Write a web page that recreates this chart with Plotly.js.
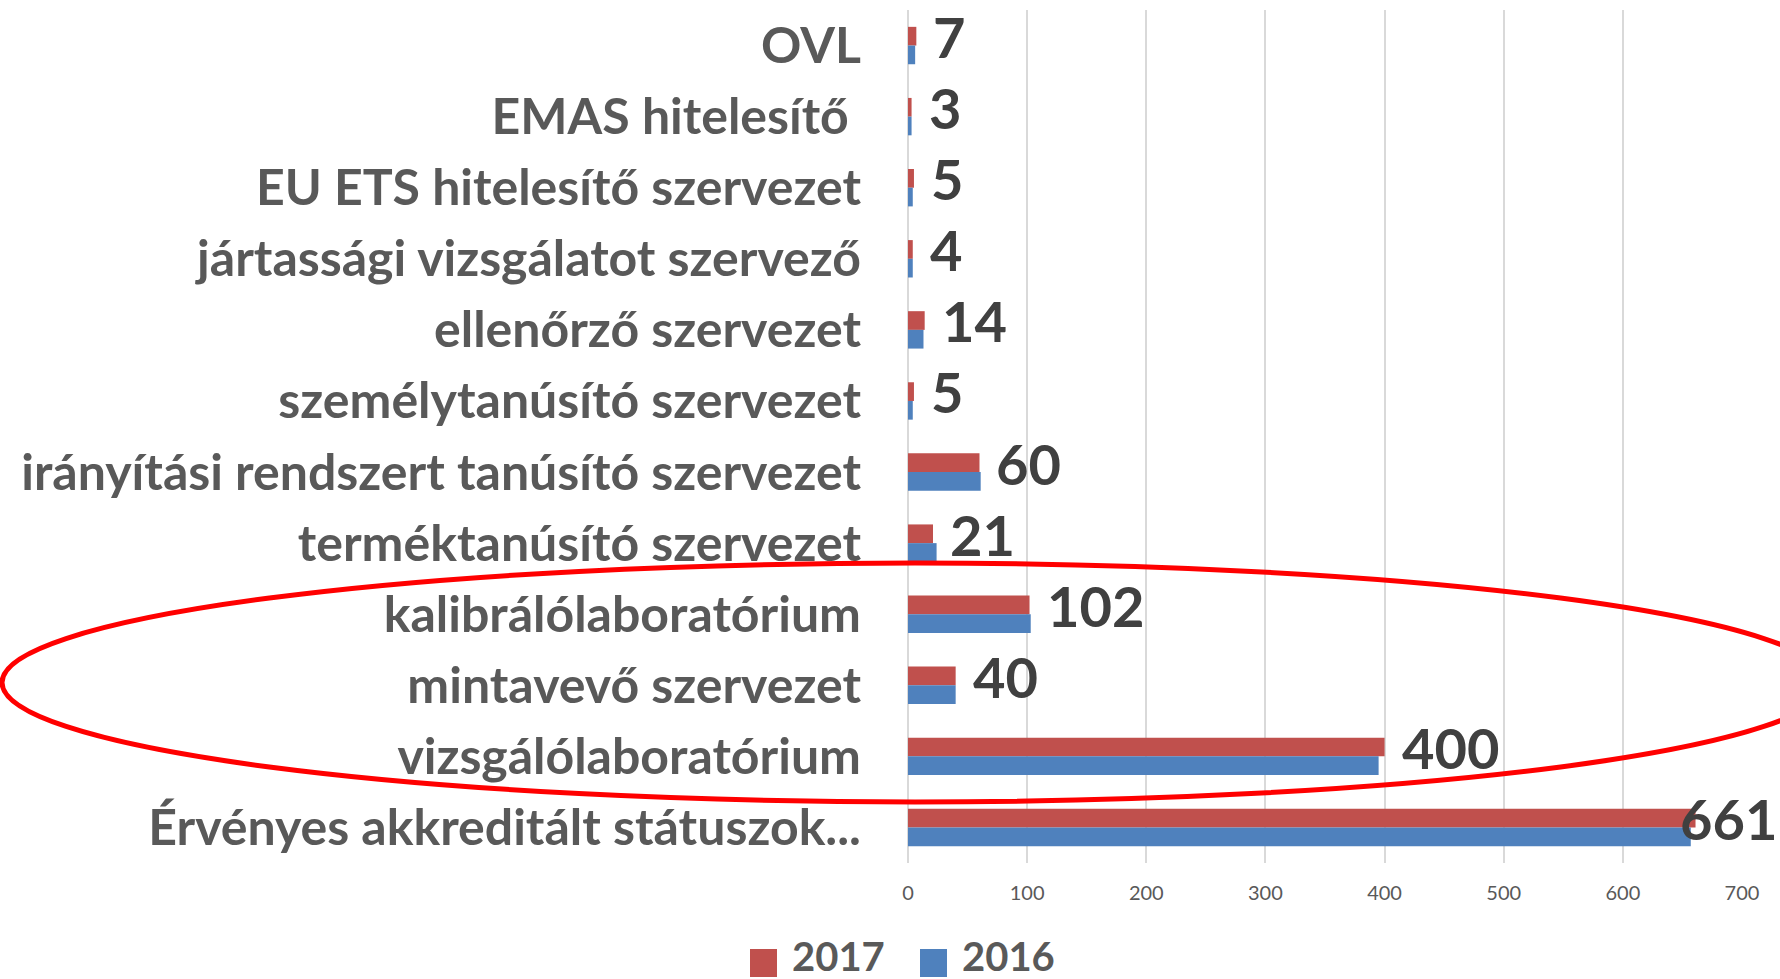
<!DOCTYPE html>
<html>
<head>
<meta charset="utf-8">
<script src="https://cdn.plot.ly/plotly-3.0.1.min.js"></script>
<style>
  html, body { margin: 0; padding: 0; background: #ffffff; }
  #chart { width: 1780px; height: 979px; }
</style>
</head>
<body>
<div id="chart"></div>
<script>
// ---- data (top to bottom as shown) ----
const categories = [
  "OVL",
  "EMAS hitelesítő ",
  "EU ETS hitelesítő szervezet",
  "jártassági vizsgálatot szervező",
  "ellenőrző szervezet",
  "személytanúsító szervezet",
  "irányítási rendszert tanúsító szervezet",
  "terméktanúsító szervezet",
  "kalibrálólaboratórium",
  "mintavevő szervezet",
  "vizsgálólaboratórium",
  "Érvényes akkreditált státuszok..."
];
const values2017 = [7, 3, 5, 4, 14, 5, 60, 21, 102, 40, 400, 661];
const values2016 = [6, 3, 4, 4, 13, 4, 61, 24, 103, 40, 395, 657];
const seriesNames = ["2017", "2016"];
const seriesColors = ["#C0504D", "#4F81BD"];
const xTicks = [0, 100, 200, 300, 400, 500, 600, 700];

// ---- layout geometry ----
const W = 1780, H = 979;
const M = { l: 908, r: 38, t: 10, b: 116 };
const plotW = W - M.l - M.r, plotH = H - M.t - M.b;
const px2x = px => (px - M.l) / plotW;
const px2y = py => (H - M.b - py) / plotH;
const xMax = xTicks[xTicks.length - 1];

const traces = [
  { type: "bar", orientation: "h", name: seriesNames[0], y: categories, x: values2017,
    marker: { color: seriesColors[0] }, hoverinfo: "x+y+name", showlegend: false },
  { type: "bar", orientation: "h", name: seriesNames[1], y: categories, x: values2016,
    marker: { color: seriesColors[1] }, hoverinfo: "x+y+name", showlegend: false }
];

// data labels for the 2017 series, at the end of its bars;
// a label that would run off the chart is pulled back inside its right edge
const labelFont = { family: "Lato, 'Open Sans', sans-serif", size: 56, weight: 700, color: "#404040" };
const labelAnnotations = values2017.map((v, i) => {
  const overflow = v / xMax > 0.9;
  return {
    x: overflow ? xMax : v, y: categories[i], xref: "x", yref: "y",
    text: String(v), showarrow: false,
    xanchor: overflow ? "right" : "left", yanchor: "middle",
    xshift: overflow ? (M.r - 1) : 15,
    yshift: 9,
    font: labelFont
  };
});

// custom legend (large squares like the original)
const legendItems = [
  { sq0: 750, text0: 790 },
  { sq0: 920, text0: 960 }
];
const legendShapes = legendItems.map((it, k) => ({
  type: "rect", xref: "paper", yref: "paper",
  x0: px2x(it.sq0), x1: px2x(it.sq0 + 27), y0: px2y(977), y1: px2y(949),
  fillcolor: seriesColors[k], line: { width: 0 }
}));
const legendTexts = legendItems.map((it, k) => ({
  xref: "paper", yref: "paper", x: px2x(it.text0), y: px2y(956),
  xanchor: "left", yanchor: "middle", showarrow: false, text: seriesNames[k],
  font: { family: "Lato, 'Open Sans', sans-serif", size: 40, weight: 700, color: "#595959" }
}));

// red highlight ellipse
const ellipse = {
  type: "circle", xref: "paper", yref: "paper", layer: "above",
  x0: px2x(2), x1: px2x(1828), y0: px2y(802), y1: px2y(563),
  line: { color: "#FF0000", width: 5 }, fillcolor: "rgba(0,0,0,0)"
};

const layout = {
  width: W, height: H,
  margin: M,
  paper_bgcolor: "#ffffff", plot_bgcolor: "#ffffff",
  barmode: "group", bargap: 0.474, bargroupgap: 0,
  showlegend: false,
  xaxis: {
    range: [0, xMax], tickvals: xTicks, ticktext: xTicks.map(String),
    showgrid: true, gridcolor: "#d9d9d9", gridwidth: 2,
    zeroline: true, zerolinecolor: "#d9d9d9", zerolinewidth: 2.5,
    showline: false, ticks: "", ticklabelstandoff: 16,
    tickfont: { family: "Lato, 'Open Sans', sans-serif", size: 20, color: "#595959" },
    fixedrange: true, automargin: false
  },
  yaxis: {
    type: "category", autorange: false, range: [categories.length - 0.5, -0.5],
    showgrid: false, zeroline: false, showline: false, ticks: "",
    ticklabelstandoff: 46,
    tickfont: { family: "Lato, 'Open Sans', sans-serif", size: 50, weight: 700, color: "#595959" },
    fixedrange: true, automargin: false
  },
  shapes: [ellipse, ...legendShapes],
  annotations: [...labelAnnotations, ...legendTexts]
};

Plotly.newPlot("chart", traces, layout, { displayModeBar: false, staticPlot: true });
</script>
</body>
</html>
